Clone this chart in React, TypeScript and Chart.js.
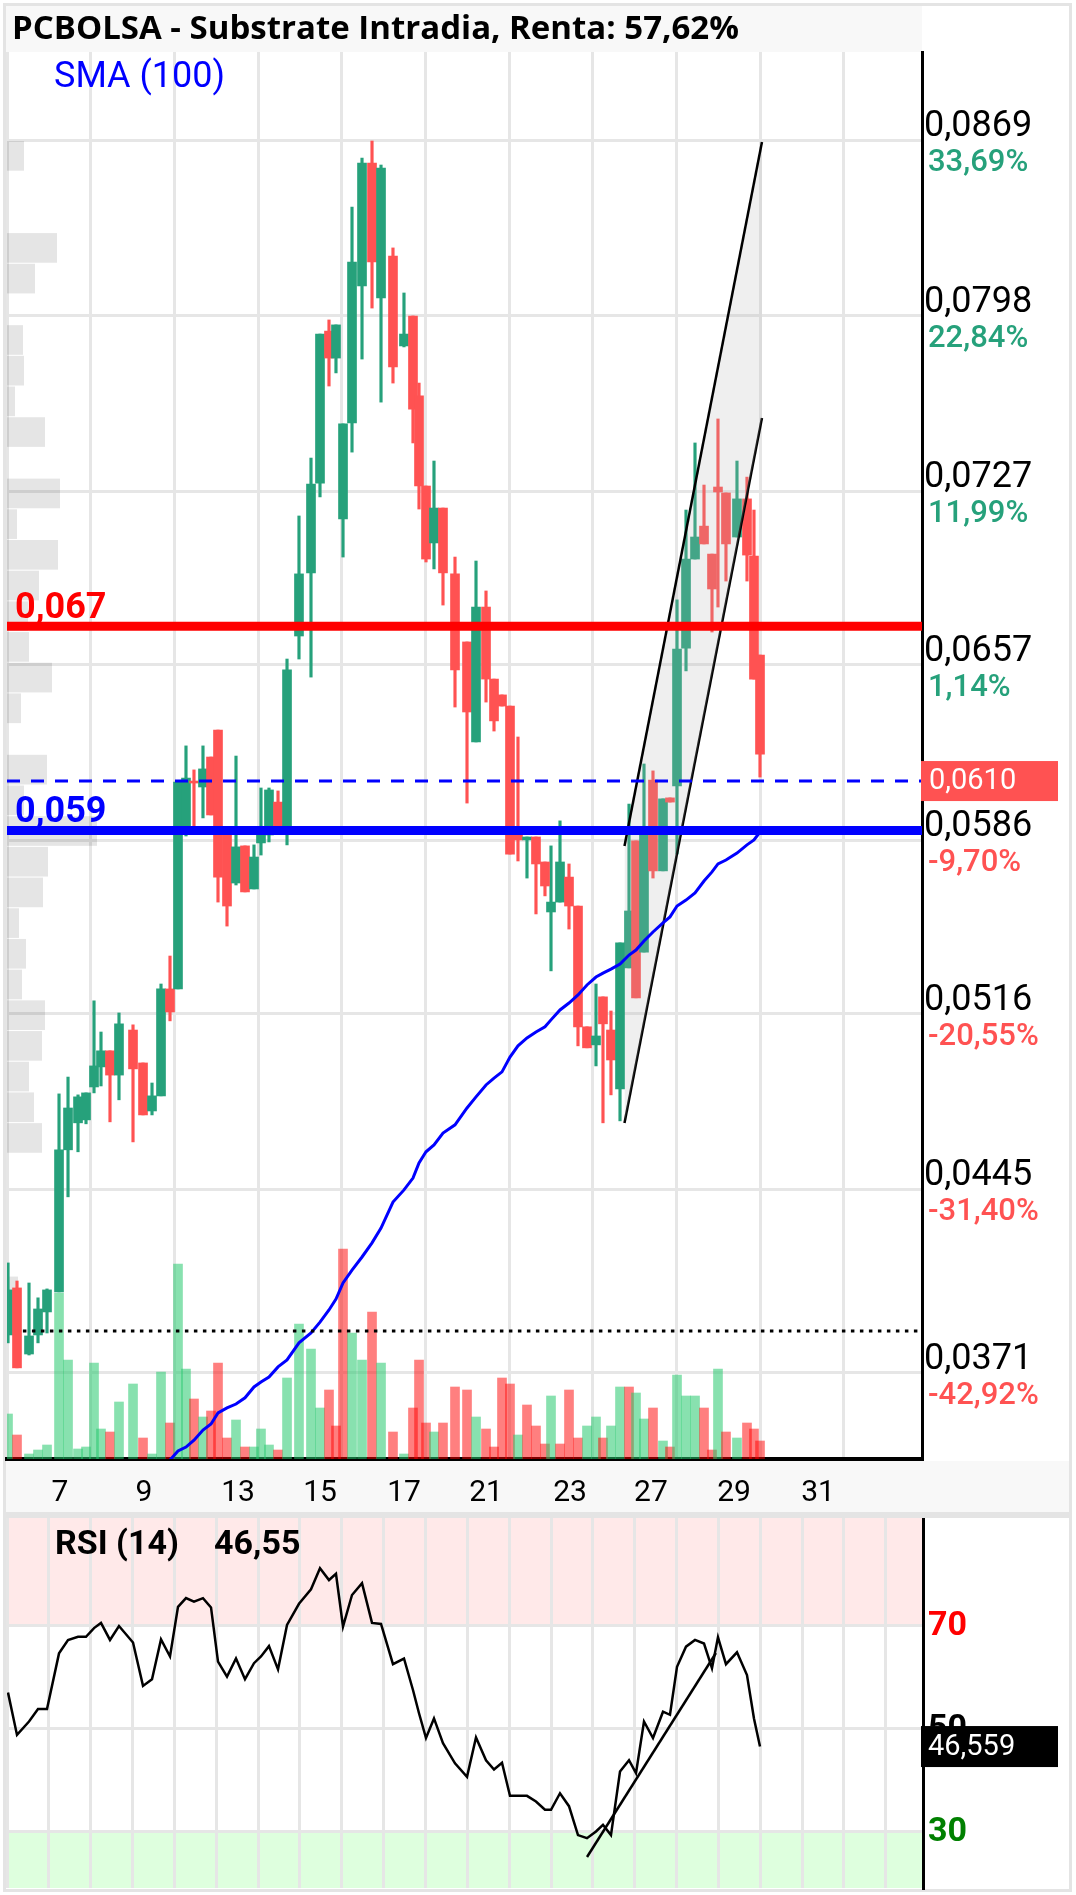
import React, { useEffect, useRef } from "react";
import { Chart, registerables } from "chart.js";

Chart.register(...registerables);

// ---------------- DATA ----------------
// candle time positions, in trading-session units (1 session = 1 RSI grid column)
const candleTimes = [
  0.024, 0.239, 0.526, 0.741, 0.956, 1.243, 1.458, 1.697, 1.888, 2.079,
  2.246, 2.461, 2.676, 3.011, 3.25, 3.465, 3.68, 3.895, 4.086, 4.277,
  4.468, 4.683, 4.875, 5.042, 5.257, 5.472, 5.687, 5.902, 6.069, 6.26,
  6.476, 6.691, 6.977, 7.264, 7.479, 7.694, 7.861, 8.029, 8.244, 8.483,
  8.722, 8.937, 9.223, 9.486, 9.701, 9.845, 10.012, 10.203, 10.418, 10.705,
  10.992, 11.207, 11.446, 11.637, 11.828, 12.019, 12.21, 12.425, 12.64, 12.855,
  12.999, 13.214, 13.429, 13.644, 13.859, 14.074, 14.241, 14.432, 14.648, 14.863,
  15.03, 15.221, 15.436, 15.675, 15.842, 16.01, 16.225, 16.44, 16.655, 16.846,
  16.989, 17.18, 17.443, 17.682, 17.849, 17.993,
];

const opens = [
  0.03862, 0.04052, 0.03785, 0.03862, 0.03955, 0.04036, 0.0461, 0.04719, 0.04731, 0.04864,
  0.04945, 0.0501, 0.04912, 0.05094, 0.04961, 0.04767, 0.04828, 0.0526, 0.0526, 0.05918,
  0.061, 0.06076, 0.06197, 0.06306, 0.05882, 0.05688, 0.05838, 0.05664, 0.0585, 0.05882,
  0.06015, 0.05918, 0.06686, 0.06941, 0.07304, 0.07918, 0.07809, 0.07159, 0.07547, 0.081,
  0.08597, 0.08052, 0.08221, 0.07858, 0.07979, 0.07656, 0.07292, 0.07062, 0.07203, 0.06937,
  0.06662, 0.06258, 0.06803, 0.06512, 0.06448, 0.06403, 0.05906, 0.05862, 0.05874, 0.05773,
  0.05571, 0.05611, 0.05712, 0.05595, 0.05107, 0.05034, 0.05228, 0.05094, 0.04856, 0.05345,
  0.05858, 0.05409, 0.06104, 0.05737, 0.06032, 0.0608, 0.06637, 0.06997, 0.0713, 0.07017,
  0.07288, 0.07264, 0.07086, 0.0724, 0.07009, 0.06609,
];
const highs = [
  0.04153, 0.0408, 0.04072, 0.04012, 0.04048, 0.04836, 0.04904, 0.04832, 0.0484, 0.05212,
  0.05086, 0.0501, 0.05163, 0.05115, 0.04961, 0.0488, 0.0528, 0.05393, 0.06096, 0.06242,
  0.06145, 0.06242, 0.06197, 0.06306, 0.05882, 0.06201, 0.05838, 0.05842, 0.06072, 0.06072,
  0.0606, 0.06593, 0.07171, 0.07405, 0.07906, 0.07963, 0.07943, 0.07543, 0.08419, 0.08617,
  0.08686, 0.08589, 0.08254, 0.08072, 0.07979, 0.07708, 0.07292, 0.07393, 0.07203, 0.07005,
  0.06662, 0.06989, 0.06868, 0.06512, 0.06448, 0.06403, 0.06278, 0.05874, 0.05874, 0.05773,
  0.05838, 0.05939, 0.05765, 0.05595, 0.05107, 0.0528, 0.05228, 0.05171, 0.05446, 0.06007,
  0.05858, 0.06169, 0.06141, 0.06028, 0.06032, 0.06832, 0.07195, 0.07466, 0.07296, 0.07017,
  0.07563, 0.07264, 0.07393, 0.07328, 0.07195, 0.06609,
];
const lows = [
  0.0383, 0.03729, 0.03781, 0.0383, 0.0387, 0.04036, 0.0442, 0.04602, 0.04715, 0.0484,
  0.04868, 0.04723, 0.04812, 0.04642, 0.04751, 0.04751, 0.04828, 0.05131, 0.0526, 0.05878,
  0.05918, 0.05951, 0.05963, 0.05611, 0.05514, 0.0568, 0.05652, 0.05664, 0.05801, 0.05854,
  0.05918, 0.05842, 0.06593, 0.0652, 0.07248, 0.07696, 0.07749, 0.07005, 0.07429, 0.07805,
  0.08011, 0.07631, 0.07708, 0.07854, 0.07466, 0.07199, 0.06985, 0.06957, 0.06811, 0.06399,
  0.06011, 0.06258, 0.06419, 0.06302, 0.06403, 0.05805, 0.05777, 0.05708, 0.05563, 0.05636,
  0.05333, 0.05611, 0.05502, 0.0503, 0.05022, 0.04949, 0.04719, 0.04832, 0.04727, 0.05345,
  0.05224, 0.05409, 0.05708, 0.05737, 0.06015, 0.05805, 0.06545, 0.06997, 0.07058, 0.06702,
  0.06803, 0.06908, 0.07086, 0.06908, 0.06512, 0.06116,
];
const closes = [
  0.04044, 0.03729, 0.03858, 0.03967, 0.04044, 0.0461, 0.04779, 0.04824, 0.0484, 0.04949,
  0.0501, 0.04912, 0.05119, 0.04937, 0.04751, 0.04828, 0.0526, 0.05167, 0.06096, 0.06112,
  0.06092, 0.06149, 0.05963, 0.05712, 0.05595, 0.05834, 0.05652, 0.05793, 0.05882, 0.06064,
  0.05918, 0.06549, 0.06937, 0.073, 0.07906, 0.07809, 0.07943, 0.07543, 0.08197, 0.08597,
  0.08197, 0.08577, 0.07773, 0.07906, 0.07603, 0.07292, 0.06997, 0.07203, 0.06941, 0.06549,
  0.06379, 0.06803, 0.06512, 0.06343, 0.06403, 0.05805, 0.05862, 0.05874, 0.05765, 0.05676,
  0.05611, 0.05773, 0.05595, 0.05107, 0.05022, 0.0507, 0.05119, 0.04973, 0.05446, 0.05575,
  0.05224, 0.05906, 0.05737, 0.06028, 0.06015, 0.06633, 0.06997, 0.07086, 0.07058, 0.06876,
  0.07268, 0.07058, 0.0724, 0.07013, 0.06512, 0.06209,
];

// volume (thousands) and whether the volume bar is an up bar
const volumes = [
  45, 24, 5, 9, 14, 166, 99, 10, 12, 96,
  30, 27, 57, 75, 21, 5, 87, 36, 195, 90,
  60, 42, 48, 96, 21, 39, 12, 12, 30, 14,
  9, 81, 135, 110, 51, 69, 33, 210, 126, 99,
  147, 96, 27, 5, 51, 99, 36, 27, 36, 72,
  69, 42, 30, 12, 81, 75, 24, 54, 33, 15,
  63, 15, 69, 21, 33, 42, 21, 33, 72, 72,
  66, 40, 51, 18, 12, 84, 63, 63, 51, 9,
  90, 27, 21, 36, 30, 18,
];
const volumeUp = [
  1, 0, 1, 1, 1, 1, 1, 1, 1, 1,
  1, 0, 1, 1, 0, 1, 1, 0, 1, 1,
  0, 1, 0, 0, 0, 1, 0, 1, 1, 1,
  0, 1, 1, 1, 1, 0, 0, 0, 1, 1,
  0, 1, 0, 1, 0, 0, 0, 1, 0, 0,
  0, 1, 0, 0, 0, 0, 1, 0, 0, 0,
  1, 0, 0, 0, 1, 1, 0, 1, 1, 0,
  1, 1, 0, 1, 0, 1, 1, 1, 0, 0,
  1, 0, 1, 0, 0, 0,
];

// SMA(100), available from the 18th candle on
const smaFirstIndex = 17;
const smaValues = [
  0.03357, 0.03393, 0.03409, 0.03437, 0.03478, 0.03502, 0.03547, 0.03567, 0.03583, 0.03608,
  0.03652, 0.03672, 0.03692, 0.03733, 0.03761, 0.0383, 0.0387, 0.03914, 0.03963, 0.04007,
  0.04072, 0.04124, 0.04177, 0.04234, 0.04294, 0.04399, 0.04448, 0.04496, 0.04557, 0.04602,
  0.0463, 0.04678, 0.04711, 0.04779, 0.04824, 0.04872, 0.049, 0.04925, 0.04985, 0.0503,
  0.05062, 0.05086, 0.05107, 0.05135, 0.05175, 0.05203, 0.05236, 0.05276, 0.05308, 0.05324,
  0.0534, 0.05361, 0.05397, 0.05417, 0.05454, 0.0549, 0.05527, 0.05551, 0.05595, 0.05619,
  0.05648, 0.05696, 0.05733, 0.05765, 0.05781, 0.05809, 0.05842, 0.05862, 0.05894,
];

// RSI(14)
const rsiValues = [
  57.0, 48.8, 51.4, 53.8, 53.8, 64.6, 67.2, 67.8, 67.8, 69.5,
  70.5, 67.2, 69.9, 66.7, 58.3, 59.6, 67.3, 64.0, 73.6, 75.3,
  74.6, 75.3, 73.5, 63.0, 60.1, 63.6, 59.6, 62.7, 64.0, 66.0,
  61.5, 70.1, 74.2, 77.0, 81.1, 78.8, 80.0, 69.8, 75.9, 78.2,
  70.5, 70.3, 62.5, 63.6, 57.5, 53.0, 48.2, 52.0, 47.2, 43.3,
  40.7, 48.3, 43.9, 42.1, 43.4, 37.0, 37.0, 37.0, 35.9, 34.3,
  34.3, 37.5, 35.0, 29.4, 28.8, 30.1, 31.4, 29.4, 41.7, 43.9,
  41.4, 51.4, 48.2, 53.3, 52.7, 62.0, 65.9, 67.2, 66.5, 61.7,
  67.7, 62.5, 64.8, 60.4, 52.0, 46.55,
];

// volume profile (left histogram): bins from the top price downward
const profileTopPrice = 0.08686;
const profileBinSize = 0.00124;
const profileVolumes = [
  17, 0, 0, 50, 28, 0, 16, 17, 8, 38,
  0, 53, 10, 51, 32, 21, 22, 45, 14, 0,
  40, 17, 90, 41, 36, 12, 19, 15, 38, 35,
  22, 27, 35, 0, 0, 0, 0, 11,
];

// axis labels
const xLabelSessions = [1.266, 3.274, 5.52, 7.479, 9.486, 11.446, 13.453, 15.388, 17.372, 19.379];
const xLabels = ["7", "9", "13", "15", "17", "21", "23", "27", "29", "31"];
const priceTicks = [0.0869, 0.0798, 0.0727, 0.0657, 0.0586, 0.0516, 0.0445, 0.0371];
const priceTickLabels = ["0,0869", "0,0798", "0,0727", "0,0657", "0,0586", "0,0516", "0,0445", "0,0371"];
const pctLabels = ["33,69%", "22,84%", "11,99%", "1,14%", "-9,70%", "-20,55%", "-31,40%", "-42,92%"];
const rsiTicks = [70, 50, 30];
const rsiTickLabels = ["70", "50", "30"];

// levels and drawings
const resistanceLevel = 0.06725;
const resistanceLabel = "0,067";
const supportLevel = 0.059;
const supportLabel = "0,059";
const lastPrice = 0.061;
const lastPriceLabel = "0,0610";
const referenceLevel = 0.03878;
const referenceStart = 0.38;
const channelTimes = [14.755, 18.04];
const channelUpper = [0.05838, 0.08682];
const channelLower = [0.04718, 0.07567];
const rsiTrendTimes = [13.86, 16.94];
const rsiTrendValues = [25.16, 64.67];
const rsiLastLabel = "46,559";
const rsiHeaderValue = "46,55";
const titleText = "PCBOLSA - Substrate Intradia, Renta: 57,62%";

// ---------------- STYLE / LAYOUT ----------------
const GREEN = "#26a17b";
const RED = "#ff5252";
const GRID = "#e6e6e6";
const ROBOTO = "Roboto, 'Noto Sans', sans-serif";
const TITLE_FONT = "'Open Sans', 'Noto Sans', sans-serif";

const PRICE_MIN = 0.033608;
const PRICE_MAX = 0.090456;
const X_MAX = 21.864;
const RSI_X_MAX = 21.888;
const RSI_MIN = 19.15;
const RSI_MAX = 90.82;
const PROFILE_MAX = 915;
const mainGridSessions = [0, 2, 4, 6, 8, 10, 12, 14, 16, 18, 20];
const rsiGridSessions = Array.from({ length: 22 }, (_, i) => i);

const isUp = (i: number) => closes[i] >= opens[i];

const mainOverlay = {
  id: "mainOverlay",
  beforeDatasetsDraw(chart: any) {
    const { ctx, chartArea, scales } = chart;
    const y = scales.y;
    const xp = scales.xp;
    ctx.save();
    ctx.beginPath();
    ctx.rect(chartArea.left, chartArea.top, chartArea.width, chartArea.height);
    ctx.clip();
    ctx.fillStyle = "rgba(0,0,0,0.1)";
    profileVolumes.forEach((v, k) => {
      if (!v) return;
      const top = profileTopPrice - k * profileBinSize;
      const bottom = top - profileBinSize;
      const y0 = y.getPixelForValue(top);
      const y1 = y.getPixelForValue(bottom);
      const x0 = xp.getPixelForValue(0);
      const x1 = xp.getPixelForValue(v);
      ctx.fillRect(x0, y0, x1 - x0, y1 - y0 - 1);
    });
    ctx.restore();
  },
  afterDatasetsDraw(chart: any) {
    const { ctx, chartArea, scales } = chart;
    const y = scales.y;
    const x = scales.x;
    ctx.save();
    ctx.textAlign = "left";
    ctx.textBaseline = "alphabetic";
    // right axis labels
    priceTicks.forEach((v, i) => {
      const py = y.getPixelForValue(v);
      ctx.fillStyle = "#000";
      ctx.font = `36px ${ROBOTO}`;
      ctx.fillText(priceTickLabels[i], chartArea.right + 2, py - 4);
      ctx.font = `500 31px ${ROBOTO}`;
      ctx.fillStyle = pctLabels[i].startsWith("-") ? RED : GREEN;
      ctx.fillText(pctLabels[i], chartArea.right + 6, py + 31);
    });
    // level labels
    ctx.font = `bold 36px ${ROBOTO}`;
    ctx.fillStyle = "#ff0000";
    ctx.fillText(resistanceLabel, chartArea.left + 8, y.getPixelForValue(resistanceLevel) - 8);
    ctx.fillStyle = "#0000ff";
    ctx.fillText(supportLabel, chartArea.left + 8, y.getPixelForValue(supportLevel) - 9);
    // last price box
    const ly = y.getPixelForValue(lastPrice);
    ctx.fillStyle = RED;
    ctx.fillRect(chartArea.right - 1, ly - 20, 137, 40);
    ctx.fillStyle = "#fff";
    ctx.font = `29px ${ROBOTO}`;
    ctx.textBaseline = "middle";
    ctx.fillText(lastPriceLabel, chartArea.right + 7, ly + 1);
    // x labels
    ctx.fillStyle = "#000";
    ctx.font = `30px ${ROBOTO}`;
    ctx.textAlign = "center";
    ctx.textBaseline = "alphabetic";
    xLabelSessions.forEach((s, i) => {
      ctx.fillText(xLabels[i], x.getPixelForValue(s), chartArea.bottom + 42);
    });
    ctx.restore();
  },
};

const rsiOverlay = {
  id: "rsiOverlay",
  beforeDraw(chart: any) {
    const { ctx, chartArea, scales } = chart;
    const y = scales.y;
    ctx.save();
    const y70 = y.getPixelForValue(70);
    const y30 = y.getPixelForValue(30);
    ctx.fillStyle = "rgba(255,0,0,0.085)";
    ctx.fillRect(chartArea.left, chartArea.top, chartArea.width, y70 - chartArea.top);
    ctx.fillStyle = "rgba(0,255,0,0.13)";
    ctx.fillRect(chartArea.left, y30, chartArea.width, chartArea.bottom - y30);
    ctx.restore();
  },
  afterDraw(chart: any) {
    const { ctx, chartArea, scales } = chart;
    const y = scales.y;
    ctx.save();
    ctx.textAlign = "left";
    ctx.textBaseline = "middle";
    const colors = ["#ff0000", "#000000", "#008000"];
    rsiTicks.forEach((v, i) => {
      ctx.font = `bold 34px ${ROBOTO}`;
      ctx.fillStyle = colors[i];
      ctx.fillText(rsiTickLabels[i], chartArea.right + 5, y.getPixelForValue(v) + 1);
    });
    const last = rsiValues[rsiValues.length - 1];
    const ly = y.getPixelForValue(last);
    ctx.fillStyle = "#000";
    ctx.fillRect(chartArea.right - 2, ly - 20.5, 137, 41);
    ctx.fillStyle = "#fff";
    ctx.font = `29px ${ROBOTO}`;
    ctx.fillText(rsiLastLabel, chartArea.right + 5, ly + 1);
    ctx.restore();
  },
};

export default function App() {
  const mainRef = useRef<HTMLCanvasElement | null>(null);
  const rsiRef = useRef<HTMLCanvasElement | null>(null);

  useEffect(() => {
    if (!mainRef.current || !rsiRef.current) return;
    const pt = (xs: number[], ys: number[]) => xs.map((t, i) => ({ x: t, y: ys[i] }));
    const flat = (v: number) => [
      { x: 0, y: v },
      { x: X_MAX, y: v },
    ];
    const candleColors = candleTimes.map((_, i) => (isUp(i) ? GREEN : RED));
    const volColors = volumeUp.map((u) => (u ? "rgba(38,200,110,0.55)" : "rgba(255,0,0,0.5)"));

    const main = new Chart(mainRef.current, {
      type: "bar",
      data: {
        datasets: [
          { type: "line", label: "0,067", data: flat(resistanceLevel), borderColor: "#ff0000", borderWidth: 9, pointRadius: 0, order: 0 },
          { type: "line", label: "0,059", data: flat(supportLevel), borderColor: "#0000ff", borderWidth: 9, pointRadius: 0, order: 0 },
          { type: "line", label: "last", data: flat(lastPrice), borderColor: "#0000ff", borderWidth: 3, borderDash: [13, 11], pointRadius: 0, order: 0 },
          {
            type: "line", label: "ref",
            data: [{ x: referenceStart, y: referenceLevel }, { x: X_MAX, y: referenceLevel }],
            borderColor: "#000", borderWidth: 3, borderDash: [3.5, 5.5], pointRadius: 0, order: 0,
          },
          {
            type: "line", label: "SMA (100)",
            data: pt(candleTimes.slice(smaFirstIndex), smaValues),
            borderColor: "#0000ff", borderWidth: 3, pointRadius: 0, order: 1,
          },
          {
            type: "line", label: "channel top", data: pt(channelTimes, channelUpper),
            borderColor: "#000", borderWidth: 2.5, pointRadius: 0, fill: "+1",
            backgroundColor: "rgba(178,178,178,0.21)", order: 2,
          },
          {
            type: "line", label: "channel bottom", data: pt(channelTimes, channelLower),
            borderColor: "#000", borderWidth: 2.5, pointRadius: 0, order: 2,
          },
          {
            type: "bar", label: "body",
            data: candleTimes.map((t, i) => ({ x: t, y: [opens[i], closes[i]] })),
            backgroundColor: candleColors, barThickness: 9, minBarLength: 2, grouped: false, order: 3,
          },
          {
            type: "bar", label: "wick",
            data: candleTimes.map((t, i) => ({ x: t, y: [lows[i], highs[i]] })),
            backgroundColor: candleColors, barThickness: 2.5, grouped: false, order: 4,
          },
          {
            type: "bar", label: "volume", yAxisID: "yv",
            data: candleTimes.map((t, i) => ({ x: t, y: volumes[i] })),
            backgroundColor: volColors, barThickness: 9, grouped: false, order: 5,
          },
        ] as any,
      },
      options: {
        responsive: false,
        animation: false,
        events: [],
        layout: { padding: { left: 7, top: 52, right: 154, bottom: 59 } },
        plugins: { legend: { display: false }, tooltip: { enabled: false }, title: { display: false } },
        scales: {
          x: {
            type: "linear", position: "bottom", min: 0, max: X_MAX, offset: false,
            grid: { color: GRID, lineWidth: 3, drawTicks: false, offset: false },
            border: { display: true, color: "#000", width: 4 },
            ticks: { display: false },
            afterBuildTicks: (s: any) => { s.ticks = mainGridSessions.map((v) => ({ value: v })); },
          },
          y: {
            type: "linear", position: "right", min: PRICE_MIN, max: PRICE_MAX,
            grid: { color: GRID, lineWidth: 3, drawTicks: false },
            border: { display: true, color: "#000", width: 3 },
            ticks: { display: false },
            afterBuildTicks: (s: any) => { s.ticks = priceTicks.map((v) => ({ value: v })); },
          },
          yv: { type: "linear", position: "left", display: false, min: 0, max: 1407 },
          xp: {
            type: "linear", axis: "x", position: "top", display: false, min: 0, max: PROFILE_MAX,
            offset: false, grid: { offset: false },
          },
        } as any,
      },
      plugins: [mainOverlay],
    });

    const rsi = new Chart(rsiRef.current, {
      type: "line",
      data: {
        datasets: [
          { label: "trend", data: pt(rsiTrendTimes, rsiTrendValues), borderColor: "#000", borderWidth: 2.5, pointRadius: 0, order: 0 },
          { label: "RSI (14)", data: pt(candleTimes, rsiValues), borderColor: "#000", borderWidth: 2.5, pointRadius: 0, order: 1 },
        ] as any,
      },
      options: {
        responsive: false,
        animation: false,
        events: [],
        layout: { padding: { left: 7, top: 0, right: 153, bottom: 7 } },
        plugins: { legend: { display: false }, tooltip: { enabled: false } },
        scales: {
          x: {
            type: "linear", min: 0, max: RSI_X_MAX, offset: false,
            grid: { color: GRID, lineWidth: 3, drawTicks: false },
            border: { display: false },
            ticks: { display: false },
            afterBuildTicks: (s: any) => { s.ticks = rsiGridSessions.map((v) => ({ value: v })); },
          },
          y: {
            type: "linear", position: "right", min: RSI_MIN, max: RSI_MAX,
            grid: { color: GRID, lineWidth: 3, drawTicks: false },
            border: { display: true, color: "#000", width: 3 },
            ticks: { display: false },
            afterBuildTicks: (s: any) => { s.ticks = rsiTicks.map((v) => ({ value: v })); },
          },
        } as any,
      },
      plugins: [rsiOverlay],
    });

    return () => {
      main.destroy();
      rsi.destroy();
    };
  }, []);

  return (
    <div style={{ position: "absolute", left: 0, top: 0, width: 1076, height: 1895, background: "#fff", overflow: "hidden" }}>
      <div style={{ position: "absolute", left: 3, top: 3, width: 1069, height: 1889, border: "3px solid #e4e4e4", boxSizing: "border-box" }} />
      <div style={{ position: "absolute", left: 6, top: 6, width: 916, height: 46, background: "#f8f8f8" }} />
      <div style={{ position: "absolute", left: 6, top: 1461, width: 1063, height: 51, background: "#f8f8f8" }} />
      <div style={{ position: "absolute", left: 6, top: 1512, width: 1063, height: 6, background: "#e4e4e4" }} />
      <canvas ref={mainRef} width={1076} height={1518} style={{ position: "absolute", left: 0, top: 0, width: 1076, height: 1518 }} />
      <canvas ref={rsiRef} width={1076} height={377} style={{ position: "absolute", left: 0, top: 1518, width: 1076, height: 377 }} />
      <div style={{ position: "absolute", left: 12, top: 10, fontFamily: TITLE_FONT, fontWeight: 700, fontSize: 33, lineHeight: "33px", color: "#000", whiteSpace: "nowrap" }}>
        {titleText}
      </div>
      <div style={{ position: "absolute", left: 54, top: 57, fontFamily: ROBOTO, fontSize: 36, lineHeight: "36px", color: "#0000ff", whiteSpace: "nowrap" }}>
        SMA (100)
      </div>
      <div style={{ position: "absolute", left: 55, top: 1525, fontFamily: ROBOTO, fontWeight: 700, fontSize: 34, lineHeight: "34px", color: "#000", whiteSpace: "nowrap" }}>
        RSI (14)
      </div>
      <div style={{ position: "absolute", left: 214, top: 1525, fontFamily: ROBOTO, fontWeight: 700, fontSize: 34, lineHeight: "34px", color: "#000", whiteSpace: "nowrap" }}>
        {rsiHeaderValue}
      </div>
    </div>
  );
}
